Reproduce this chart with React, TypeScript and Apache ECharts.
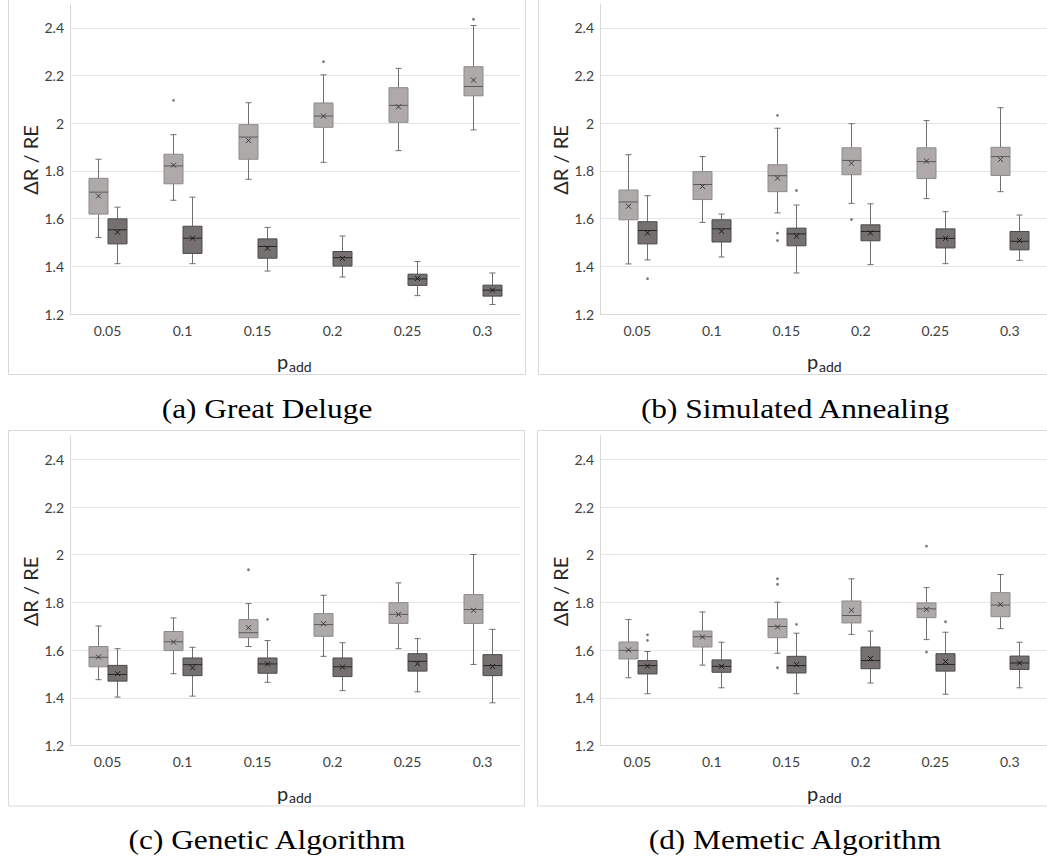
import React, { useEffect, useRef } from "react";
import * as echarts from "echarts";

const categories = ["0.05", "0.1", "0.15", "0.2", "0.25", "0.3"];

// each row: [low whisker, Q1, median, Q3, high whisker, mean]
const gdLight = [
  [1.521, 1.619, 1.711, 1.769, 1.849, 1.695],
  [1.677, 1.746, 1.821, 1.870, 1.952, 1.824],
  [1.765, 1.849, 1.942, 1.994, 2.086, 1.928],
  [1.836, 1.983, 2.030, 2.085, 2.203, 2.030],
  [1.885, 2.004, 2.075, 2.149, 2.230, 2.069],
  [1.972, 2.115, 2.154, 2.237, 2.410, 2.181],
];
const gdDark = [
  [1.411, 1.494, 1.553, 1.599, 1.648, 1.543],
  [1.411, 1.454, 1.518, 1.568, 1.690, 1.518],
  [1.380, 1.434, 1.483, 1.515, 1.563, 1.476],
  [1.355, 1.401, 1.436, 1.462, 1.527, 1.433],
  [1.277, 1.320, 1.347, 1.367, 1.420, 1.349],
  [1.240, 1.275, 1.300, 1.321, 1.372, 1.300],
];
const gdLightOut = [[], [2.096], [], [2.258], [], [2.436]];
const gdDarkOut = [[], [], [], [], [], []];

const saLight = [
  [1.410, 1.595, 1.670, 1.720, 1.868, 1.652],
  [1.584, 1.680, 1.743, 1.797, 1.860, 1.735],
  [1.624, 1.713, 1.780, 1.826, 1.979, 1.770],
  [1.664, 1.784, 1.844, 1.897, 1.998, 1.832],
  [1.684, 1.768, 1.839, 1.897, 2.011, 1.841],
  [1.713, 1.781, 1.860, 1.899, 2.065, 1.848],
];
const saDark = [
  [1.427, 1.494, 1.550, 1.587, 1.696, 1.540],
  [1.439, 1.502, 1.557, 1.595, 1.619, 1.547],
  [1.372, 1.486, 1.536, 1.560, 1.657, 1.526],
  [1.407, 1.507, 1.546, 1.574, 1.662, 1.540],
  [1.411, 1.477, 1.517, 1.557, 1.629, 1.517],
  [1.425, 1.469, 1.505, 1.546, 1.615, 1.508],
];
const saLightOut = [[], [], [2.033, 1.539, 1.508], [1.596], [], []];
const saDarkOut = [[1.348], [], [1.718], [], [], []];

const gaLight = [
  [1.476, 1.530, 1.570, 1.615, 1.701, 1.571],
  [1.501, 1.598, 1.635, 1.678, 1.735, 1.634],
  [1.615, 1.652, 1.673, 1.728, 1.795, 1.694],
  [1.574, 1.658, 1.707, 1.753, 1.830, 1.711],
  [1.606, 1.712, 1.750, 1.799, 1.882, 1.750],
  [1.540, 1.712, 1.770, 1.833, 2.001, 1.767],
];
const gaDark = [
  [1.403, 1.470, 1.498, 1.536, 1.606, 1.501],
  [1.407, 1.493, 1.539, 1.567, 1.612, 1.526],
  [1.465, 1.503, 1.542, 1.567, 1.640, 1.542],
  [1.430, 1.489, 1.530, 1.567, 1.631, 1.529],
  [1.425, 1.512, 1.553, 1.585, 1.648, 1.543],
  [1.379, 1.493, 1.535, 1.581, 1.687, 1.531],
];
const gaLightOut = [[], [], [1.937], [], [], []];
const gaDarkOut = [[], [], [1.729], [], [], []];

const maLight = [
  [1.484, 1.563, 1.599, 1.634, 1.728, 1.601],
  [1.537, 1.613, 1.656, 1.680, 1.760, 1.655],
  [1.587, 1.652, 1.699, 1.731, 1.801, 1.697],
  [1.666, 1.714, 1.745, 1.806, 1.899, 1.767],
  [1.644, 1.736, 1.773, 1.798, 1.862, 1.771],
  [1.690, 1.740, 1.789, 1.841, 1.917, 1.792],
];
const maDark = [
  [1.417, 1.500, 1.535, 1.556, 1.594, 1.533],
  [1.442, 1.507, 1.532, 1.559, 1.633, 1.532],
  [1.417, 1.504, 1.535, 1.574, 1.671, 1.539],
  [1.462, 1.522, 1.556, 1.613, 1.680, 1.565],
  [1.415, 1.512, 1.540, 1.585, 1.675, 1.552],
  [1.442, 1.519, 1.546, 1.575, 1.633, 1.546],
];
const maLightOut = [[], [], [1.899, 1.876, 1.526], [], [2.036, 1.592], []];
const maDarkOut = [[1.664, 1.641], [], [1.708], [], [1.719], []];

const yTicks = { min: 1.2, max: 2.5, interval: 0.2 };
const yAxisName = "ΔR / RE";
const captions = [
  "(a) Great Deluge",
  "(b) Simulated Annealing",
  "(c) Genetic Algorithm",
  "(d) Memetic Algorithm",
];

const panels = [
  { light: gdLight, dark: gdDark, lo: gdLightOut, dout: gdDarkOut },
  { light: saLight, dark: saDark, lo: saLightOut, dout: saDarkOut },
  { light: gaLight, dark: gaDark, lo: gaLightOut, dout: gaDarkOut },
  { light: maLight, dark: maDark, lo: maLightOut, dout: maDarkOut },
];

// layout (page pixels)
const gridPos = [
  { left: 70, top: 4 },
  { left: 600, top: 4 },
  { left: 70, top: 435.5 },
  { left: 600, top: 435.5 },
];
const GRID_W = 450;
const GRID_H = 310;

const FONT = "Lato, 'Open Sans', sans-serif";

function makeRender(
  outliers: number[][],
  offset: number,
  fill: string,
  stroke: string,
  medColor: string,
  markColor: string
) {
  return (params: any, api: any) => {
    const idx = api.value(0);
    const xc = Math.round(api.coord([idx, 1.5])[0] + offset) + 0.5;
    const yv = (k: number) => api.coord([idx, api.value(k)])[1];
    const yLow = yv(1),
      yQ1 = yv(2),
      yMed = yv(3),
      yQ3 = yv(4),
      yHigh = yv(5),
      yMean = yv(6);
    const hw = 9.5;
    const cap = 3;
    const whisk = "#6f6f6f";
    const children: any[] = [
      { type: "line", shape: { x1: xc, y1: yHigh, x2: xc, y2: yQ3 }, style: { stroke: whisk, lineWidth: 1 } },
      { type: "line", shape: { x1: xc, y1: yQ1, x2: xc, y2: yLow }, style: { stroke: whisk, lineWidth: 1 } },
      { type: "line", shape: { x1: xc - cap, y1: yHigh, x2: xc + cap, y2: yHigh }, style: { stroke: whisk, lineWidth: 1 } },
      { type: "line", shape: { x1: xc - cap, y1: yLow, x2: xc + cap, y2: yLow }, style: { stroke: whisk, lineWidth: 1 } },
      {
        type: "rect",
        shape: { x: xc - hw, y: yQ3, width: hw * 2, height: yQ1 - yQ3 },
        style: { fill, stroke, lineWidth: 1 },
      },
      { type: "line", shape: { x1: xc - hw, y1: yMed, x2: xc + hw, y2: yMed }, style: { stroke: medColor, lineWidth: 1 } },
      { type: "line", shape: { x1: xc - 2.5, y1: yMean - 2.5, x2: xc + 2.5, y2: yMean + 2.5 }, style: { stroke: markColor, lineWidth: 1 } },
      { type: "line", shape: { x1: xc - 2.5, y1: yMean + 2.5, x2: xc + 2.5, y2: yMean - 2.5 }, style: { stroke: markColor, lineWidth: 1 } },
    ];
    (outliers[params.dataIndex] || []).forEach((v) => {
      const p = api.coord([idx, v]);
      children.push({ type: "circle", shape: { cx: xc, cy: p[1], r: 1.4 }, style: { fill: "#7a7a7a" } });
    });
    return { type: "group", children };
  };
}

export default function App() {
  const ref = useRef<HTMLDivElement>(null);
  useEffect(() => {
    if (!ref.current) return;
    const chart = echarts.init(ref.current, null, { renderer: "svg" });

    const grid = gridPos.map((g) => ({ left: g.left, top: g.top, width: GRID_W, height: GRID_H }));
    const xAxis = gridPos.map((_, k) => ({
      type: "category",
      gridIndex: k,
      data: categories,
      boundaryGap: true,
      axisLine: { show: true, lineStyle: { color: "#d9d9d9", width: 1 } },
      axisTick: { show: false },
      axisLabel: { color: "#404040", fontFamily: FONT, fontSize: 14, margin: 9 },
      splitLine: { show: false },
    }));
    const yAxis = gridPos.map((_, k) => ({
      type: "value",
      gridIndex: k,
      min: yTicks.min,
      max: yTicks.max,
      interval: yTicks.interval,
      axisLine: { show: true, lineStyle: { color: "#d9d9d9", width: 1 } },
      axisTick: { show: false },
      axisLabel: {
        color: "#404040",
        fontFamily: FONT,
        fontSize: 14,
        margin: 6,
        showMaxLabel: false,
        formatter: (v: number) => String(Math.round(v * 10) / 10),
      },
      splitLine: { show: true, showMaxLine: false, showMinLine: false, lineStyle: { color: "#e6e6e6", width: 1 } },
    }));

    const series: any[] = [];
    panels.forEach((p, k) => {
      series.push({
        type: "custom",
        xAxisIndex: k,
        yAxisIndex: k,
        silent: true,
        clip: false,
        data: p.light.map((b, i) => [i, ...b]),
        encode: { x: 0, y: [1, 2, 3, 4, 5] },
        renderItem: makeRender(p.lo, -9.5, "#aeaaaa", "#8c8a8a", "#5a5a5a", "#3a3a3a"),
      });
      series.push({
        type: "custom",
        xAxisIndex: k,
        yAxisIndex: k,
        silent: true,
        clip: false,
        data: p.dark.map((b, i) => [i, ...b]),
        encode: { x: 0, y: [1, 2, 3, 4, 5] },
        renderItem: makeRender(p.dout, 9.5, "#767171", "#4a4a4a", "#262626", "#1a1a1a"),
      });
    });

    const frames = [
      { x: 8.5, y: -5, w: 517, h: 379.5 },
      { x: 538.5, y: -5, w: 520, h: 379.5 },
      { x: 8.5, y: 430.5, w: 516, h: 375.5 },
      { x: 537.5, y: 430.5, w: 520, h: 375.5 },
    ];
    const graphic: any[] = [];
    frames.forEach((f) => {
      graphic.push({
        type: "rect",
        z: -10,
        shape: { x: f.x, y: f.y, width: f.w, height: f.h },
        style: { fill: "none", stroke: "#d9d9d9", lineWidth: 1 },
      });
    });
    gridPos.forEach((g, k) => {
      const dx = g.left - 70;
      const dy = g.top - 4;
      graphic.push({
        type: "text",
        x: 30 + dx,
        y: 160 + dy,
        rotation: Math.PI / 2,
        style: {
          text: yAxisName,
          fill: "#262626",
          font: `20px ${FONT}`,
          textAlign: "center",
          textVerticalAlign: "middle",
        },
      });
      graphic.push({
        type: "text",
        x: 277 + dx,
        y: 371 + dy,
        style: { text: "p", fill: "#262626", font: `20px ${FONT}`, textAlign: "left", textVerticalAlign: "bottom" },
      });
      graphic.push({
        type: "text",
        x: 289 + dx,
        y: 373 + dy,
        style: { text: "add", fill: "#262626", font: `14px ${FONT}`, textAlign: "left", textVerticalAlign: "bottom" },
      });
      graphic.push({
        type: "text",
        x: (k % 2 === 0 ? 267 : 795),
        y: k < 2 ? 409 : 840,
        scaleX: 1.12,
        style: {
          text: captions[k],
          fill: "#000000",
          font: `28px 'Liberation Serif', 'DejaVu Serif', serif`,
          textAlign: "center",
          textVerticalAlign: "middle",
        },
      });
    });

    chart.setOption({
      animation: false,
      backgroundColor: "#ffffff",
      grid,
      xAxis,
      yAxis,
      series,
      graphic,
    });
    return () => chart.dispose();
  }, []);

  return (
    <div
      ref={ref}
      style={{ position: "absolute", left: 0, top: 0, width: 1047, height: 862 }}
    />
  );
}
